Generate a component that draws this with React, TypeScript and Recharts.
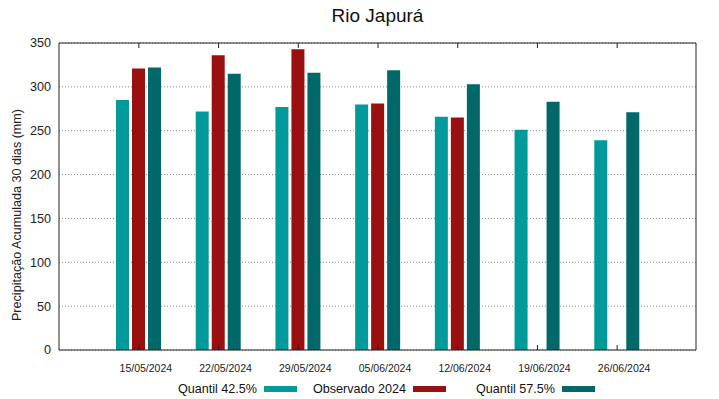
import { BarChart, Bar, XAxis, YAxis, CartesianGrid } from 'recharts'

const dates = [
  '15/05/2024',
  '22/05/2024',
  '29/05/2024',
  '05/06/2024',
  '12/06/2024',
  '19/06/2024',
  '26/06/2024',
]
const quantil425 = [285, 272, 277, 280, 266, 251, 239]
const observado2024: (number | null)[] = [321, 336, 343, 281, 265, null, null]
const quantil575 = [322, 315, 316, 319, 303, 283, 271]
const yTicks = [0, 50, 100, 150, 200, 250, 300, 350]

const FONT = '"Liberation Sans", Arial, sans-serif'

const series = [
  { key: 'q425', name: 'Quantil 42.5%', color: '#009a9a' },
  { key: 'obs', name: 'Observado 2024', color: '#9a0f0f' },
  { key: 'q575', name: 'Quantil 57.5%', color: '#006868' },
]

const data = dates.map((date, i) => ({
  date,
  q425: quantil425[i],
  obs: observado2024[i],
  q575: quantil575[i],
}))

function BottomTick(props: any) {
  const { x, y, payload } = props
  return (
    <g>
      <line x1={x} x2={x} y1={y} y2={y - 5} stroke="#222" />
      <text
        x={x + 7}
        y={y + 18}
        textAnchor="middle"
        dominantBaseline="central"
        fontSize={10.5}
        fill="#222"
        fontFamily={FONT}
      >
        {payload.value}
      </text>
    </g>
  )
}

function TopTick(props: any) {
  const { x, y } = props
  return <line x1={x} x2={x} y1={y} y2={y + 5} stroke="#222" />
}

function RightTick(props: any) {
  const { x, y } = props
  return <line x1={x} x2={x - 5} y1={y} y2={y} stroke="#222" />
}

export default function App() {
  return (
    <div style={{ position: 'absolute', left: 0, top: 0, width: 719, height: 399, fontFamily: FONT, background: '#fff' }}>
      <div
        style={{
          position: 'absolute',
          left: 0,
          width: 755,
          top: 6,
          textAlign: 'center',
          fontSize: 19,
          lineHeight: '19px',
          color: '#111',
        }}
      >
        Rio Japurá
      </div>
      <BarChart
        width={719}
        height={399}
        data={data}
        margin={{ top: 42, right: 22, bottom: 19, left: 9 }}
        barSize={13}
        barGap={3}
      >
        <CartesianGrid vertical={false} strokeDasharray="1 2" stroke="#888" />
        <XAxis
          dataKey="date"
          height={30}
          padding={{ left: 40, right: 39 }}
          stroke="#222"
          tickSize={0}
          tickMargin={0}
          tick={<BottomTick />}
          interval={0}
        />
        <XAxis
          xAxisId="top"
          orientation="top"
          dataKey="date"
          height={1}
          padding={{ left: 40, right: 39 }}
          stroke="#222"
          tickSize={0}
          tickMargin={0}
          tick={<TopTick />}
          interval={0}
        />
        <YAxis
          domain={[0, 350]}
          ticks={yTicks}
          width={50}
          stroke="#222"
          tickLine={false}
          tickSize={0}
          tickMargin={8}
          tick={{ fontSize: 12.6, fill: '#222', fontFamily: FONT }}
          interval={0}
          label={{
            content: () => (
              <text
                transform="translate(17,215) rotate(-90)"
                textAnchor="middle"
                dominantBaseline="central"
                fontSize={12.6}
                fill="#222"
                fontFamily={FONT}
              >
                Precipitação Acumulada 30 dias (mm)
              </text>
            ),
          }}
        />
        <YAxis
          yAxisId="r"
          orientation="right"
          domain={[0, 350]}
          ticks={yTicks}
          width={1}
          stroke="#222"
          tickSize={0}
          tickMargin={0}
          tick={<RightTick />}
          interval={0}
        />
        {series.map((s) => (
          <Bar key={s.key} dataKey={s.key} name={s.name} fill={s.color} isAnimationActive={false} />
        ))}
      </BarChart>
      {series.map((s, i) => (
        <div
          key={s.key}
          style={{
            position: 'absolute',
            left: 148 + 149 * i,
            width: 149,
            top: 380,
            height: 18,
            display: 'flex',
            justifyContent: 'flex-end',
            alignItems: 'center',
            gap: 7,
            fontSize: 12.6,
            color: '#111',
          }}
        >
          <span>{s.name}</span>
          <span style={{ display: 'inline-block', width: 33, height: 6, background: s.color }} />
        </div>
      ))}
    </div>
  )
}
